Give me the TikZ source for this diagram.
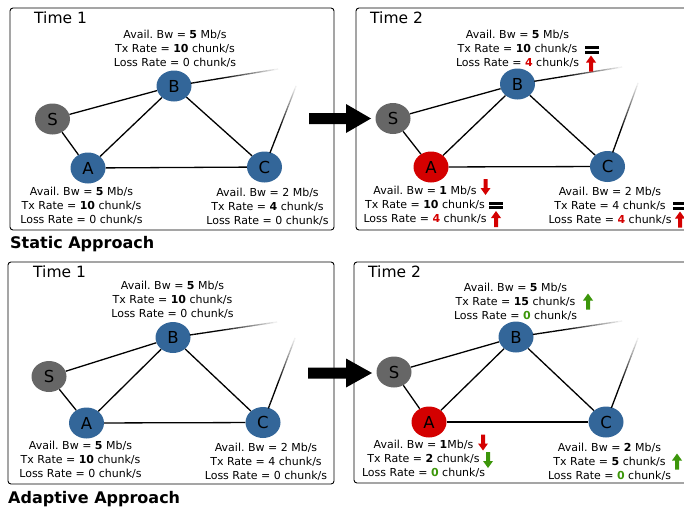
\documentclass[tikz,border=0pt]{standalone}
\usepackage{fontspec}
\setmainfont{DejaVu Sans}
\usetikzlibrary{shapes.geometric,calc}
\definecolor{nblue}{RGB}{51,102,153}
\definecolor{ngray}{RGB}{102,102,102}
\definecolor{cred}{RGB}{212,0,0}
\definecolor{cgreen}{RGB}{60,150,10}
\frenchspacing
\newcommand\fadeln[3]{%
  \coordinate (fs) at ($(#1)!#3!(#2)$);
  \foreach \i in {0,...,23}{%
    \pgfmathsetmacro\ta{\i/24}%
    \pgfmathsetmacro\tb{(\i+1.05)/24}%
    \pgfmathtruncatemacro\sh{\i<9 ? 100 : 100-(\i-8)*100/16}%
    \draw[line width=1.3pt, black!\sh!white] ($(fs)!\ta!(#2)$) -- ($(fs)!\tb!(#2)$);
  }%
}
\newcommand\RD[1]{\textbf{\color{cred}#1}}
\newcommand\GD[1]{\textbf{\color{cgreen}#1}}
\begin{document}
\begin{tikzpicture}[x=1pt,y=-1pt,
  panel/.style={draw, line width=0.9pt, rounded corners=3pt},
  nd/.style={ellipse, minimum width=35pt, minimum height=31pt, inner sep=0pt,
    font=\fontsize{16.5}{16.5}\selectfont},
  bnode/.style={nd, fill=nblue},
  snode/.style={nd, fill=ngray},
  anode/.style={nd, fill=cred},
  edge/.style={line width=1.3pt},
  info/.style={font=\fontsize{11}{14}\selectfont, align=center, inner sep=0pt},
  ttl/.style={font=\fontsize{15.5}{16}\selectfont, anchor=base west, inner sep=0pt},
  appr/.style={font=\fontsize{16}{16}\selectfont\bfseries, anchor=base west, inner sep=0pt},
  uparrow/.pic={\fill (0,-8) -- (5,-1) -- (2,-1) -- (2,8) -- (-2,8) -- (-2,-1) -- (-5,-1) -- cycle;},
  dnarrow/.pic={\fill (0,8) -- (5,1) -- (2,1) -- (2,-8) -- (-2,-8) -- (-2,1) -- (-5,1) -- cycle;},
  eqsign/.pic={\fill (-7,-3.6) rectangle (7,-0.9); \fill (-7,0.9) rectangle (7,3.6);}
]
\useasboundingbox (0,0) rectangle (684,506);

% ---------------- Panel 1 ----------------
\draw[panel] (10,8) rectangle (334,230);
\node[ttl] (t1) at (34,23) {Time 1};
\node[snode] (S1) at (52.5,119) {S};
\node[bnode] (B1) at (174,86) {B};
\node[bnode] (A1) at (88,168) {A};
\node[bnode] (C1) at (264.5,167) {C};
\draw[edge] (S1) -- (B1);
\draw[edge] (S1) -- (A1);
\draw[edge] (A1) -- (B1);
\draw[edge] (B1) -- (C1);
\draw[edge] (A1) -- (C1);
\coordinate (fb1) at (278,69);
\coordinate (fc1) at (296,86);
\fadeln{B1}{fb1}{17pt}
\fadeln{C1}{fc1}{15pt}
\node[info] (ib1) at (175,49) {Avail. Bw = \textbf{5} Mb/s\\Tx Rate = \textbf{10} chunk/s\\Loss Rate = 0 chunk/s};
\node[info] (ia1) at (81.5,206) {Avail. Bw = \textbf{5} Mb/s\\Tx Rate = \textbf{10} chunk/s\\Loss Rate = 0 chunk/s};
\node[info] (ic1) at (267.5,207) {Avail. Bw = 2 Mb/s\\Tx Rate = \textbf{4} chunk/s\\Loss Rate = 0 chunk/s};
\node[appr] (sa) at (10,248) {Static Approach};

% ---------------- Panel 2 ----------------
\draw[panel] (356,8) rectangle (700,230);
\node[ttl] (t2) at (370,23) {Time 2};
\node[snode] (S2) at (393,118.5) {S};
\node[bnode] (B2) at (517.5,84) {B};
\node[anode] (A2) at (431,167) {A};
\node[bnode] (C2) at (607.5,166.5) {C};
\draw[edge] (S2) -- (B2);
\draw[edge] (S2) -- (A2);
\draw[edge] (A2) -- (B2);
\draw[edge] (B2) -- (C2);
\draw[edge] (A2) -- (C2);
\coordinate (fb2) at (622,67);
\coordinate (fc2) at (638,83);
\fadeln{B2}{fb2}{17pt}
\fadeln{C2}{fc2}{15pt}
\node[info] (ib2) at (517.5,49) {Avail. Bw = \textbf{5} Mb/s\\Tx Rate = \textbf{10} chunk/s\\Loss Rate = \RD{4} chunk/s};
\node[info] (ia2) at (425,204.5) {Avail. Bw = \textbf{1} Mb/s\\Tx Rate = \textbf{10} chunk/s\\Loss Rate = \RD{4} chunk/s};
\node[info] (ic2) at (610,206) {Avail. Bw = 2 Mb/s\\Tx Rate = 4 chunk/s\\Loss Rate = \RD{4} chunk/s};
\pic at (591.5,50) {eqsign};
\pic[fill=cred] at (591,63.5) {uparrow};
\pic[fill=cred] at (485.5,187) {dnarrow};
\pic at (496,205.5) {eqsign};
\pic[fill=cred] at (496,219) {uparrow};
\pic at (680,206) {eqsign};
\pic[fill=cred] at (680,219.5) {uparrow};

% big arrow top
\fill (309,113) -- (346,113) -- (346,104) -- (371,118.5) -- (346,133) -- (346,124) -- (309,124) -- cycle;

% ---------------- Panel 3 ----------------
\draw[panel] (8,262) rectangle (334,484);
\node[ttl] (t3) at (33,277.5) {Time 1};
\node[snode] (S3) at (49,376.5) {S};
\node[bnode] (B3) at (173,337.5) {B};
\node[bnode] (A3) at (86.5,423) {A};
\node[bnode] (C3) at (263,422.5) {C};
\draw[edge] (S3) -- (B3);
\draw[edge] (S3) -- (A3);
\draw[edge] (A3) -- (B3);
\draw[edge] (B3) -- (C3);
\draw[edge] (A3) -- (C3);
\coordinate (fb3) at (277,322);
\coordinate (fc3) at (295,338);
\fadeln{B3}{fb3}{17pt}
\fadeln{C3}{fc3}{15pt}
\node[info] (ib3) at (172.5,299.5) {Avail. Bw = \textbf{5} Mb/s\\Tx Rate = \textbf{10} chunk/s\\Loss Rate = 0 chunk/s};
\node[info] (ia3) at (80.5,460) {Avail. Bw = \textbf{5} Mb/s\\Tx Rate = \textbf{10} chunk/s\\Loss Rate = 0 chunk/s};
\node[info] (ic3) at (266,462) {Avail. Bw = 2 Mb/s\\Tx Rate = 4 chunk/s\\Loss Rate = 0 chunk/s};
\node[appr] (aa) at (8,503) {Adaptive Approach};

% ---------------- Panel 4 ----------------
\draw[panel] (354,262) rectangle (700,483);
\node[ttl] (t4) at (368,277.5) {Time 2};
\node[snode] (S4) at (394,372) {S};
\node[bnode] (B4) at (516,337) {B};
\node[anode] (A4) at (429,422) {A};
\node[bnode] (C4) at (606,422) {C};
\draw[edge] (S4) -- (B4);
\draw[edge] (S4) -- (A4);
\draw[edge] (A4) -- (B4);
\draw[edge] (B4) -- (C4);
\draw[edge] (A4) -- (C4);
\coordinate (fb4) at (622,321);
\coordinate (fc4) at (638,338);
\fadeln{B4}{fb4}{17pt}
\fadeln{C4}{fc4}{15pt}
\node[info] (ib4) at (515.5,301.5) {Avail. Bw = \textbf{5} Mb/s\\Tx Rate = \textbf{15} chunk/s\\Loss Rate = \GD{0} chunk/s};
\node[info] (ia4) at (423.5,459) {Avail. Bw = \textbf{1}Mb/s\\Tx Rate = \textbf{2} chunk/s\\Loss Rate = \GD{0} chunk/s};
\node[info] (ic4) at (609.5,461.5) {Avail. Bw = \textbf{2} Mb/s\\Tx Rate = \textbf{5} chunk/s\\Loss Rate = \GD{0} chunk/s};
\pic[fill=cgreen] at (588,301.5) {uparrow};
\pic[fill=cred] at (483,442.5) {dnarrow};
\pic[fill=cgreen] at (488,460) {dnarrow};
\pic[fill=cgreen] at (677,461.5) {uparrow};

% big arrow bottom
\fill (308,367.5) -- (346,367.5) -- (346,358.5) -- (372,373) -- (346,387.5) -- (346,378.5) -- (308,378.5) -- cycle;
\end{tikzpicture}
\end{document}
